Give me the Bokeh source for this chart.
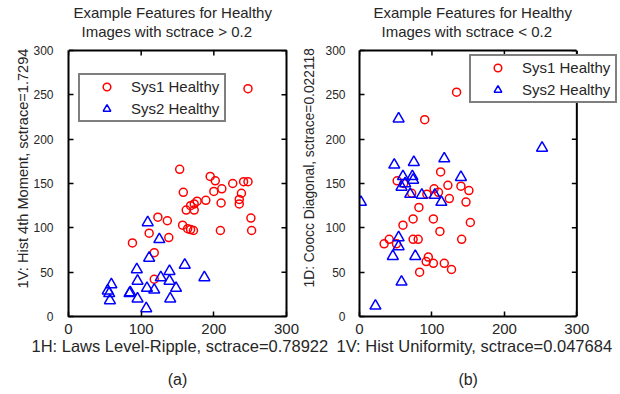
import math
from bokeh.plotting import figure
from bokeh.layouts import row
from bokeh.models import Range1d, LinearAxis, FixedTicker, Title, Span
from bokeh.embed import file_html
from bokeh.resources import INLINE

# ---------------- data ----------------
x_ticks = [0, 100, 200, 300]
y_ticks = [0, 50, 100, 150, 200, 250, 300]

a_sys1_x = [247, 153, 195, 202, 211, 226, 241, 247, 200, 238, 158, 235, 235, 210, 189, 177, 173,
            168, 162, 173, 123, 136, 251, 252, 209, 157, 164, 168, 172, 111, 138, 88, 118, 118]
a_sys1_y = [257, 166, 158, 153, 144, 150, 152, 152, 141, 139, 140, 132, 127, 128, 131, 130, 127,
            125, 120, 120, 112, 108, 111, 97, 97, 103, 99, 98, 97, 94, 89, 83, 72, 42]
a_sys2_x = [109, 125, 111, 160, 94, 139, 187, 127, 95, 139, 59, 148, 108, 118, 54, 56, 85, 84,
            95, 57, 140, 107]
a_sys2_y = [106, 87, 66, 58, 53, 51, 44, 44, 40, 40, 36, 32, 32, 30, 29, 26, 27, 26, 20, 18,
            20, 9]

b_sys1_x = [134, 90, 112, 52, 61, 122, 140, 151, 103, 109, 93, 124, 147, 72, 82, 74, 102, 60,
            153, 111, 41, 34, 51, 74, 81, 141, 95, 92, 102, 117, 127, 83]
b_sys1_y = [253, 222, 163, 153, 150, 148, 147, 142, 144, 140, 138, 133, 129, 139, 123, 110, 110,
            103, 106, 96, 87, 82, 82, 87, 87, 87, 67, 62, 60, 60, 53, 50]
b_sys2_x = [54, 252, 48, 75, 117, 60, 73, 74, 140, 63, 58, 70, 86, 104, 113, 2, 54, 54, 46, 77,
            58, 22]
b_sys2_y = [223, 190, 171, 174, 178, 158, 158, 154, 157, 150, 146, 138, 137, 137, 129, 129, 89,
            79, 68, 68, 39, 12]

title_line1 = ["Example Features for Healthy", "Example Features for Healthy"]
title_line2 = ["Images with sctrace > 0.2", "Images with sctrace < 0.2"]
x_labels = ["1H: Laws Level-Ripple, sctrace=0.78922",
            "1V: Hist Uniformity, sctrace=0.047684"]
y_labels = ["1V: Hist 4th Moment, sctrace=1.7294",
            "1D: Coocc Diagonal, sctrace=0.022118"]
captions = ["(a)", "(b)"]
series_names = ["Sys1 Healthy", "Sys2 Healthy"]

FONT = "Liberation Sans"
TXT = "#262626"


def style_axis(ax):
    ax.axis_line_color = "black"
    ax.axis_line_width = 2
    ax.major_tick_in = 5
    ax.major_tick_out = 0
    ax.major_tick_line_color = "black"
    ax.major_tick_line_width = 1.5
    ax.minor_tick_line_color = None
    ax.major_label_text_font = FONT
    ax.major_label_text_color = TXT


def txt_title(text, size, **kw):
    return Title(text=text, text_font=FONT, text_font_size=size, text_font_style="normal",
                 text_color=TXT, **kw)


def make_panel(width, x_end, b_left, b_right, sx, sy, tx, ty, idx, leg_loc, t_offsets,
               xl_offset, ytick_standoff, ylab_standoff, ylab_size, ylab_offset, box_drawn):
    p = figure(width=width, height=394, output_backend="svg", toolbar_location=None,
               x_range=Range1d(0, x_end), y_range=Range1d(y_ticks[0], y_ticks[-1]),
               min_border_left=b_left, min_border_right=b_right,
               min_border_top=50, min_border_bottom=78,
               background_fill_color="white", border_fill_color="white", title=None)
    p.grid.visible = False
    if box_drawn:
        p.outline_line_color = None
    else:
        p.outline_line_color = "black"
        p.outline_line_width = 2

    xa = p.xaxis[0]
    ya = p.yaxis[0]
    style_axis(xa)
    style_axis(ya)
    xa.ticker = FixedTicker(ticks=x_ticks)
    ya.ticker = FixedTicker(ticks=y_ticks)
    xa.bounds = (x_ticks[0], x_ticks[-1])
    xa.major_label_text_font_size = "15px"
    xa.major_label_standoff = 7
    ya.major_label_text_font_size = "12px"
    ya.major_label_standoff = ytick_standoff
    if not box_drawn:
        xa.axis_line_color = None
        ya.axis_line_color = None

    # y label as a side title so that it can sit where the reference has it
    p.add_layout(txt_title(y_labels[idx], ylab_size, align="left", offset=ylab_offset,
                           vertical_align="bottom", standoff=ylab_standoff), "left")

    # top edge of the box
    top = LinearAxis(ticker=FixedTicker(ticks=[]), bounds=(x_ticks[0], x_ticks[-1]))
    top.axis_line_color = "black" if box_drawn else None
    top.axis_line_width = 2
    top.major_label_standoff = 0
    top.major_tick_in = 0
    top.major_tick_out = 0
    top.minor_tick_line_color = None
    p.add_layout(top, "above")
    # spacer between box and title (a single invisible outward tick at the corner)
    gap = LinearAxis(ticker=FixedTicker(ticks=[x_ticks[0]]))
    gap.axis_line_color = None
    gap.major_tick_in = 0
    gap.major_tick_out = 11
    gap.major_tick_line_color = "white"
    gap.major_tick_line_width = 1
    gap.major_label_text_color = None
    gap.major_label_standoff = 0
    gap.minor_tick_line_color = None
    p.add_layout(gap, "above")

    if box_drawn:
        p.add_layout(Span(location=x_ticks[-1], dimension="height",
                          line_color="black", line_width=2))

    # inward ticks on the top and right sides of the box
    p.ray(x=x_ticks, y=[y_ticks[-1]] * len(x_ticks), length=5, length_units="screen",
          angle=-math.pi / 2, line_color="black", line_width=1.5)
    p.ray(x=[x_ticks[-1]] * len(y_ticks), y=y_ticks, length=5, length_units="screen",
          angle=math.pi, line_color="black", line_width=1.5)

    p.add_layout(txt_title(title_line2[idx], "15px", align="left", offset=t_offsets[1],
                           standoff=0), "above")
    p.add_layout(txt_title(title_line1[idx], "15px", align="left", offset=t_offsets[0],
                           standoff=0), "above")

    p.add_layout(txt_title(x_labels[idx], "16.5px", align="left", offset=xl_offset,
                           vertical_align="top", standoff=0), "below")

    # sub-figure caption, centred under the box
    mid = (x_ticks[0] + x_ticks[-1]) // 2
    cap = LinearAxis(ticker=FixedTicker(ticks=[mid]), major_label_overrides={mid: captions[idx]})
    cap.axis_line_color = None
    cap.major_tick_line_color = None
    cap.major_tick_in = 0
    cap.major_tick_out = 0
    cap.minor_tick_line_color = None
    cap.major_label_standoff = 14
    cap.major_label_text_font = FONT
    cap.major_label_text_font_size = "16px"
    cap.major_label_text_color = TXT
    p.add_layout(cap, "below")

    p.scatter(sx, sy, marker="circle", size=8, fill_color=None, line_color="#ff0000",
              line_width=1.5, legend_label=series_names[0])
    p.scatter(tx, ty, marker="triangle", size=11, fill_color=None, line_color="#0000ff",
              line_width=1.5, legend_label=series_names[1])

    lg = p.legend[0]
    lg.location = leg_loc
    lg.border_line_color = "black"
    lg.border_line_width = 2
    lg.background_fill_color = "white"
    lg.background_fill_alpha = 1
    lg.label_text_font = FONT
    lg.label_text_font_size = "15px"
    lg.label_text_color = TXT
    lg.padding = 2
    lg.spacing = 3
    lg.margin = 0
    lg.glyph_width = 49
    lg.glyph_height = 19
    lg.label_height = 19
    lg.label_width = 91
    lg.label_standoff = 0
    return p


# left panel: box = frame 68..286 ; right panel: box 357..576, frame runs to 620 for the legend
pa = make_panel(340, x_ticks[-1], 68, 54, a_sys1_x, a_sys1_y, a_sys2_x, a_sys2_y, 0,
                (10, 194), (5, 13), -37, 15, 0, "14.6px", 28, False)
pb = make_panel(327, x_ticks[-1] * 263 / 219, 64, 0, b_sys1_x, b_sys1_y, b_sys2_x, b_sys2_y, 1,
                (110, 213), (14, 22), -23, 14, 12, "13.8px", 29, True)
pb.border_fill_alpha = 0
pb.margin = (0, 0, 0, -47)

layout = row(pa, pb)
open("out.html", "w").write(file_html(layout, INLINE))
